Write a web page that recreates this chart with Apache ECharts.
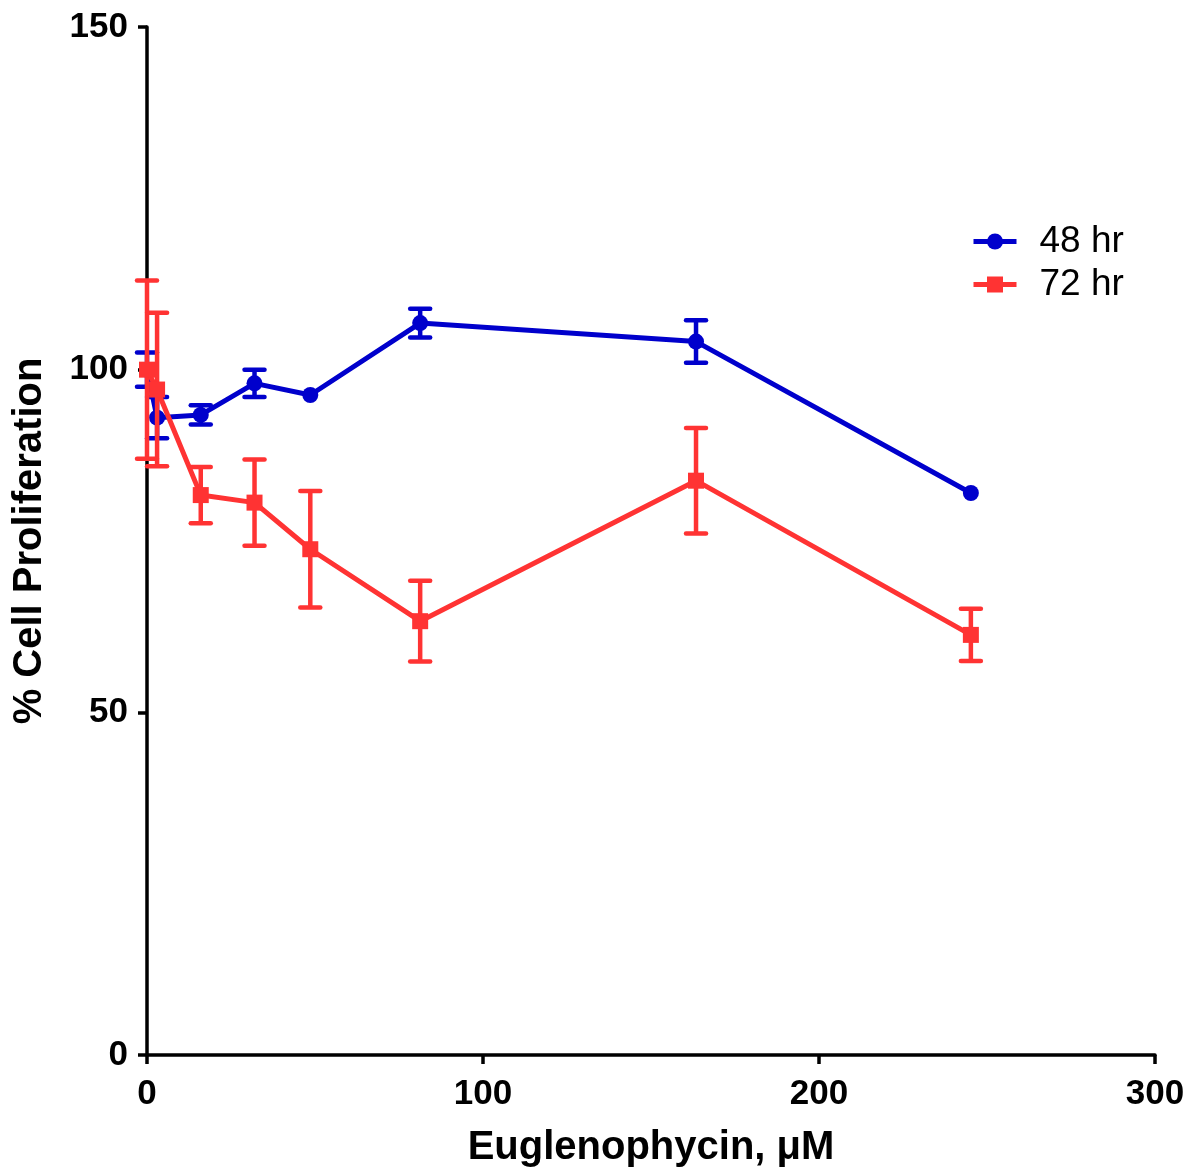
<!DOCTYPE html>
<html>
<head>
<meta charset="utf-8">
<script src="https://cdn.jsdelivr.net/npm/echarts@6/dist/echarts.min.js"></script>
<style>html,body{margin:0;padding:0;background:#fff}#c{width:1195px;height:1174px}</style>
</head>
<body>
<div id="c"></div>
<script>
// Concentration (µM)
var conc48 = [0, 3, 16, 32, 48.6, 81.3, 163.4, 245.2];
var mean48 = [100, 93, 93.4, 98, 96.3, 106.8, 104.1, 82.0];
var err48  = [2.5, 3, 1.4, 2, 0, 2.1, 3.1, 0];

var conc72 = [0, 3, 16, 32, 48.6, 81.3, 163.4, 245.2];
var mean72 = [100, 97.1, 81.7, 80.6, 73.8, 63.3, 83.8, 61.3];
var err72  = [13, 11.2, 4.1, 6.3, 8.5, 5.9, 7.7, 3.8];

var xTicks = [0, 100, 200, 300];
var yTicks = [0, 50, 100, 150];

var BLUE = '#0000cc', RED = '#ff3333';

function pairs(xs, ys){ return xs.map(function(x,i){ return [x, ys[i]]; }); }
function errData(xs, ys, es){ return xs.map(function(x,i){ return [x, ys[i]-es[i], ys[i]+es[i]]; }); }

function errRender(color){
  return function(params, api){
    var x = api.value(0), lo = api.value(1), hi = api.value(2);
    if (hi - lo <= 0) return null;
    var t = api.coord([x, hi]), b = api.coord([x, lo]);
    var hw = 10;
    var st = {stroke: color, lineWidth: 4.5, lineCap: 'round'};
    return {type: 'group', children: [
      {type: 'line', shape: {x1: t[0], y1: t[1], x2: b[0], y2: b[1]}, style: {stroke: color, lineWidth: 4.5}},
      {type: 'line', shape: {x1: t[0]-hw, y1: t[1], x2: t[0]+hw, y2: t[1]}, style: st},
      {type: 'line', shape: {x1: b[0]-hw, y1: b[1], x2: b[0]+hw, y2: b[1]}, style: st}
    ]};
  };
}

var font = '"Liberation Sans", Arial, sans-serif';
var chart = echarts.init(document.getElementById('c'), null, {renderer: 'canvas'});
chart.setOption({
  animation: false,
  backgroundColor: '#fff',
  grid: {left: 147, top: 27, right: 40, bottom: 119, containLabel: false},
  legend: {
    orient: 'vertical', left: 966, top: 218,
    data: ['48 hr', '72 hr'],
    itemWidth: 43, itemHeight: 20, itemGap: 6,
    lineStyle: {width: 5},
    textStyle: {fontFamily: font, fontSize: 37, color: '#000', padding: [0, 0, 0, 18]}
  },
  xAxis: {
    type: 'value', min: 0, max: 300, interval: 100,
    name: 'Euglenophycin, \u03bcM', nameLocation: 'middle', nameGap: 73,
    nameTextStyle: {fontFamily: font, fontSize: 40, fontWeight: 'bold', color: '#000'},
    axisLine: {show: true, onZero: false, lineStyle: {color: '#000', width: 3.5}},
    axisTick: {show: true, length: 9, lineStyle: {color: '#000', width: 3.5}},
    axisLabel: {fontFamily: font, fontSize: 35, fontWeight: 'bold', color: '#000', margin: 22,
      formatter: function(v){ return xTicks.indexOf(v) >= 0 ? String(v) : ''; }},
    splitLine: {show: false}
  },
  yAxis: {
    type: 'value', min: 0, max: 150, interval: 50,
    name: '% Cell Proliferation', nameLocation: 'middle', nameGap: 97,
    nameTextStyle: {fontFamily: font, fontSize: 40, fontWeight: 'bold', color: '#000'},
    axisLine: {show: true, onZero: false, lineStyle: {color: '#000', width: 3.5}},
    axisTick: {show: true, length: 9, lineStyle: {color: '#000', width: 3.5}},
    axisLabel: {fontFamily: font, fontSize: 35, fontWeight: 'bold', color: '#000', margin: 19,
      formatter: function(v){ return yTicks.indexOf(v) >= 0 ? String(v) : ''; }},
    splitLine: {show: false}
  },
  series: [
    {name: '48 hr err', type: 'custom', renderItem: errRender(BLUE), data: errData(conc48, mean48, err48),
     encode: {x: 0, y: [1, 2]}, z: 2, silent: true},
    {name: '48 hr', type: 'line', data: pairs(conc48, mean48), symbol: 'circle', symbolSize: 16,
     itemStyle: {color: BLUE}, lineStyle: {color: BLUE, width: 5}, z: 3},
    {name: '72 hr err', type: 'custom', renderItem: errRender(RED), data: errData(conc72, mean72, err72),
     encode: {x: 0, y: [1, 2]}, z: 4, silent: true},
    {name: '72 hr', type: 'line', data: pairs(conc72, mean72), symbol: 'rect', symbolSize: 16,
     itemStyle: {color: RED}, lineStyle: {color: RED, width: 5}, z: 5}
  ]
});
</script>
</body>
</html>
